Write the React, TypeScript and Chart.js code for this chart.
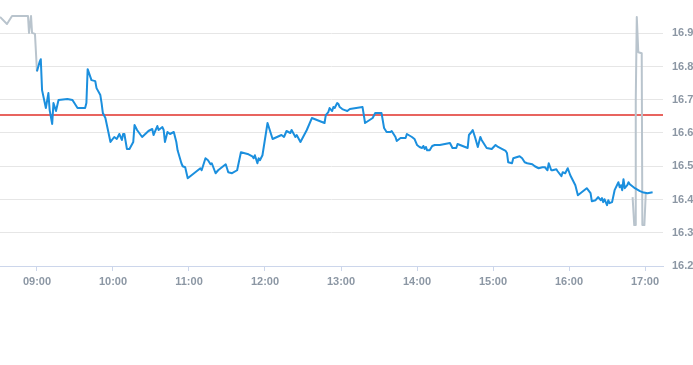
import React, { useEffect, useRef } from "react";
import { Chart, registerables } from "chart.js";

Chart.register(...registerables);

// Intraday price (blue, regular session)
const sessionTimes = [
  "09:00", "09:02", "09:03", "09:04", "09:07", "09:09", "09:10", "09:12", "09:13", "09:15",
  "09:17", "09:24", "09:28", "09:32", "09:38", "09:39", "09:40", "09:43", "09:46", "09:47",
  "09:50", "09:51", "09:52", "09:54", "09:58", "10:01", "10:03", "10:05", "10:07", "10:08",
  "10:09", "10:11", "10:13", "10:16", "10:17", "10:19", "10:23", "10:28", "10:31", "10:32",
  "10:35", "10:36", "10:39", "10:40", "10:41", "10:43", "10:45", "10:48", "10:50", "10:51",
  "10:54", "10:55", "10:57", "10:59", "11:02", "11:07", "11:09", "11:10", "11:13", "11:15",
  "11:17", "11:18", "11:21", "11:23", "11:26", "11:29", "11:31", "11:34", "11:38", "11:41",
  "11:47", "11:50", "11:51", "11:52", "11:54", "11:55", "11:56", "11:58", "12:02", "12:06",
  "12:13", "12:15", "12:17", "12:20", "12:21", "12:24", "12:25", "12:28", "12:33", "12:37",
  "12:47", "12:48", "12:50", "12:51", "12:53", "12:54", "12:55", "12:57", "12:58", "12:59",
  "13:01", "13:03", "13:05", "13:07", "13:17", "13:19", "13:25", "13:27", "13:32", "13:34",
  "13:36", "13:39", "13:40", "13:43", "13:44", "13:47", "13:51", "13:52", "13:56", "13:58",
  "14:00", "14:02", "14:04", "14:05", "14:06", "14:07", "14:08", "14:10", "14:12", "14:14",
  "14:18", "14:26", "14:28", "14:31", "14:32", "14:34", "14:40", "14:41", "14:43", "14:44",
  "14:46", "14:48", "14:50", "14:51", "14:55", "14:59", "15:02", "15:04", "15:07", "15:10",
  "15:11", "15:12", "15:15", "15:16", "15:21", "15:23", "15:25", "15:27", "15:31", "15:33",
  "15:36", "15:39", "15:41", "15:43", "15:44", "15:46", "15:47", "15:50", "15:51", "15:54",
  "15:55", "15:57", "15:59", "16:01", "16:03", "16:05", "16:07", "16:10", "16:14", "16:17",
  "16:18", "16:21", "16:23", "16:25", "16:26", "16:27", "16:28", "16:30", "16:31", "16:32",
  "16:34", "16:36", "16:39", "16:40", "16:41", "16:42", "16:43", "16:44", "16:46", "16:47",
  "16:48", "16:50", "16:52", "16:56", "16:58", "17:02", "17:06",
];
const sessionPrices = [
  16.786, 16.813, 16.822, 16.729, 16.675, 16.72, 16.669, 16.627, 16.69, 16.666,
  16.699, 16.702, 16.699, 16.675, 16.675, 16.69, 16.792, 16.759, 16.756, 16.735,
  16.714, 16.69, 16.66, 16.645, 16.573, 16.588, 16.582, 16.597, 16.579, 16.597,
  16.597, 16.552, 16.552, 16.573, 16.624, 16.609, 16.588, 16.606, 16.612, 16.594,
  16.621, 16.609, 16.618, 16.609, 16.573, 16.603, 16.597, 16.603, 16.573, 16.548,
  16.509, 16.5, 16.497, 16.464, 16.473, 16.488, 16.494, 16.488, 16.524, 16.518,
  16.506, 16.509, 16.479, 16.488, 16.497, 16.506, 16.482, 16.479, 16.488, 16.542,
  16.536, 16.53, 16.524, 16.533, 16.509, 16.524, 16.518, 16.533, 16.63, 16.582,
  16.594, 16.588, 16.606, 16.6, 16.609, 16.588, 16.594, 16.573, 16.609, 16.645,
  16.63, 16.654, 16.663, 16.675, 16.666, 16.678, 16.675, 16.69, 16.687, 16.678,
  16.672, 16.669, 16.666, 16.672, 16.678, 16.63, 16.645, 16.66, 16.66, 16.615,
  16.603, 16.603, 16.606, 16.588, 16.576, 16.585, 16.585, 16.597, 16.588, 16.582,
  16.564, 16.558, 16.555, 16.561, 16.552, 16.558, 16.548, 16.548, 16.561, 16.564,
  16.564, 16.57, 16.555, 16.555, 16.567, 16.564, 16.555, 16.594, 16.603, 16.609,
  16.585, 16.558, 16.588, 16.579, 16.555, 16.552, 16.564, 16.558, 16.552, 16.546,
  16.54, 16.512, 16.509, 16.524, 16.53, 16.524, 16.512, 16.509, 16.506, 16.5,
  16.494, 16.497, 16.497, 16.488, 16.509, 16.488, 16.488, 16.491, 16.485, 16.47,
  16.482, 16.479, 16.494, 16.473, 16.458, 16.443, 16.413, 16.422, 16.434, 16.419,
  16.395, 16.398, 16.407, 16.398, 16.404, 16.392, 16.401, 16.383, 16.398, 16.389,
  16.392, 16.428, 16.452, 16.437, 16.443, 16.428, 16.461, 16.434, 16.443, 16.452,
  16.446, 16.44, 16.434, 16.425, 16.422, 16.419, 16.422,
];

// Pre-market (grey)
const preTimes = ["08:30:48", "08:36:18", "08:40:18", "08:52:54", "08:53:42", "08:55:18", "08:56:06", "08:58:24", "09:00:00"];
const prePrices = [16.949, 16.928, 16.952, 16.952, 16.901, 16.952, 16.901, 16.898, 16.784];

// Closing auction (grey)
const postTimes = ["16:50:12", "16:51:30", "16:52:06", "16:52:42", "16:53:30", "16:54:42", "16:57:24", "16:57:54", "16:59:30", "17:00:36"];
const postPrices = [16.407, 16.323, 16.323, 16.699, 16.949, 16.843, 16.84, 16.323, 16.323, 16.419];

const previousClose = 16.655;

const xTickLabels = ["09:00", "10:00", "11:00", "12:00", "13:00", "14:00", "15:00", "16:00", "17:00"];
const yTickValues = [16.2, 16.3, 16.4, 16.5, 16.6, 16.7, 16.8, 16.9];
const axisStart = "08:30:48";
const axisEnd = "17:14:12";
const yMin = 16.2;
const yMax = 17.0;

function toMinutes(s: string): number {
  const parts = s.split(":").map(Number);
  return parts[0] * 60 + parts[1] + (parts[2] || 0) / 60;
}
function fmtTime(v: number): string {
  const h = Math.floor(v / 60);
  const m = Math.round(v - h * 60);
  return String(h).padStart(2, "0") + ":" + String(m).padStart(2, "0");
}
function pts(times: string[], vals: number[]) {
  return times.map((t, i) => ({ x: toMinutes(t), y: vals[i] }));
}

const refLinePlugin = {
  id: "refLine",
  beforeDatasetsDraw(chart: any) {
    const { ctx, chartArea, scales } = chart;
    const y = Math.round(scales.y.getPixelForValue(previousClose));
    ctx.save();
    ctx.strokeStyle = "#e0302a";
    ctx.lineWidth = 1.3;
    ctx.beginPath();
    ctx.moveTo(chartArea.left, y);
    ctx.lineTo(chartArea.right, y);
    ctx.stroke();
    ctx.restore();
  },
};

export default function App() {
  const ref = useRef<HTMLCanvasElement | null>(null);
  useEffect(() => {
    document.body.style.margin = "0";
    if (!ref.current) return;
    const font = { family: "'Liberation Sans', Arial, sans-serif", size: 11, weight: "bold" };
    const labelColor = "#8c97a4";
    const chart = new Chart(ref.current, {
      type: "line",
      data: {
        datasets: [
          {
            data: pts(sessionTimes, sessionPrices),
            borderColor: "#1b8fde",
            borderWidth: 2,
            pointRadius: 0,
            tension: 0,
            borderJoinStyle: "round",
          },
          {
            data: pts(preTimes, prePrices),
            borderColor: "#b9c4cd",
            borderWidth: 2,
            pointRadius: 0,
            tension: 0,
            borderJoinStyle: "round",
          },
          {
            data: pts(postTimes, postPrices),
            borderColor: "#b9c4cd",
            borderWidth: 2,
            pointRadius: 0,
            tension: 0,
            borderJoinStyle: "round",
          },
        ],
      },
      options: {
        animation: false,
        responsive: false,
        events: [],
        layout: { padding: 0 },
        plugins: { legend: { display: false }, tooltip: { enabled: false } },
        scales: {
          x: {
            type: "linear",
            min: toMinutes(axisStart),
            max: toMinutes(axisEnd),
            afterBuildTicks: (scale: any) => {
              scale.ticks = xTickLabels.map((l) => ({ value: toMinutes(l) }));
            },
            afterFit: (scale: any) => {
              scale.height = 34;
              scale.paddingLeft = 0;
              scale.paddingRight = 0;
            },
            grid: { drawOnChartArea: false, drawTicks: true, tickLength: 5, color: "#ccd6eb" },
            border: { color: "#ccd6eb", width: 1 },
            ticks: {
              callback: (v: any) => fmtTime(Number(v)),
              color: labelColor,
              font,
              padding: 4,
              maxRotation: 0,
              autoSkip: false,
            },
          },
          y: {
            type: "linear",
            position: "right",
            min: yMin,
            max: yMax,
            afterBuildTicks: (scale: any) => {
              scale.ticks = yTickValues.map((v) => ({ value: v }));
            },
            afterFit: (scale: any) => {
              scale.width = 30;
              scale.paddingTop = 0;
              scale.paddingBottom = 0;
            },
            grid: { color: "#e6e6e6", drawTicks: false },
            border: { display: false },
            ticks: {
              callback: (v: any) => Number(v).toFixed(1),
              color: labelColor,
              font,
              padding: 9,
            },
          },
        },
      },
      plugins: [refLinePlugin],
    } as any);
    return () => chart.destroy();
  }, []);
  return (
    <div style={{ width: 693, height: 300 }}>
      <canvas ref={ref} width={693} height={300} />
    </div>
  );
}
